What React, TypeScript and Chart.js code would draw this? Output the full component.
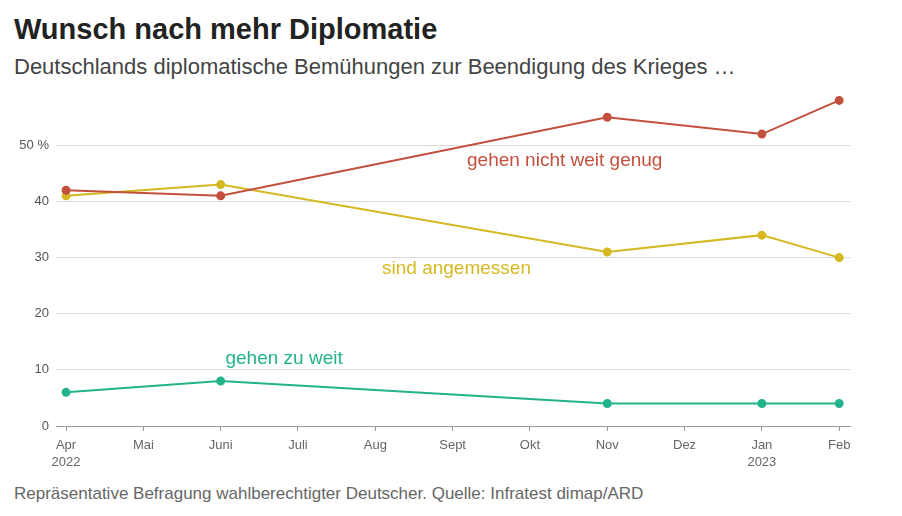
import React, { useEffect, useRef } from "react";
import { Chart, registerables } from "chart.js";

Chart.register(...registerables);

const monthLabels = ["Apr", "Mai", "Juni", "Juli", "Aug", "Sept", "Okt", "Nov", "Dez", "Jan", "Feb"];
const yearLabels = ["2022", "", "", "", "", "", "", "", "", "2023", ""];
const surveyMonths = [0, 2, 7, 9, 10]; // Apr 22, Juni, Nov, Jan 23, Feb
const nichtWeitGenug = [42, 41, 55, 52, 58];
const angemessen = [41, 43, 31, 34, 30];
const zuWeit = [6, 8, 4, 4, 4];
const yTicks = [0, 10, 20, 30, 40, 50];

const seriesNames = ["gehen nicht weit genug", "sind angemessen", "gehen zu weit"];
const seriesColors = ["#c2503d", "#d5b822", "#22b38b"];
const labelAnchorX = [6.45, 5.05, 2.82];
const labelAnchorY = [47.2, 28.0, 11.9];

const FONT = "'Liberation Sans', Arial, sans-serif";

const labelPlugin = {
  id: "seriesLabels",
  afterDatasetsDraw(chart: any) {
    const { ctx, scales } = chart;
    ctx.save();
    ctx.font = `19px ${FONT}`;
    ctx.textAlign = "center";
    ctx.textBaseline = "middle";
    seriesNames.forEach((name, i) => {
      ctx.fillStyle = seriesColors[i];
      ctx.fillText(name, scales.x.getPixelForValue(labelAnchorX[i]), scales.y.getPixelForValue(labelAnchorY[i]));
    });
    ctx.restore();
  },
};

export default function App() {
  const ref = useRef<HTMLCanvasElement>(null);
  useEffect(() => {
    const toPts = (vals: number[]) => vals.map((v, i) => ({ x: surveyMonths[i], y: v }));
    const allSeries = [nichtWeitGenug, angemessen, zuWeit];
    const chart = new Chart(ref.current!, {
      type: "line",
      data: {
        datasets: allSeries.map((vals, i) => ({
          label: seriesNames[i],
          data: toPts(vals),
          borderColor: seriesColors[i],
          backgroundColor: seriesColors[i],
          borderWidth: 2,
          pointRadius: 3.5,
          pointHoverRadius: 3.5,
          tension: 0,
        })),
      },
      options: {
        animation: false,
        responsive: false,
        events: [],
        layout: { padding: { top: 3, right: 52, left: 0, bottom: 0 } },
        plugins: { legend: { display: false }, tooltip: { enabled: false }, title: { display: false } },
        scales: {
          x: {
            type: "linear",
            min: -0.13,
            max: 10.14,
            afterBuildTicks: (scale: any) => {
              scale.ticks = monthLabels.map((_, i) => ({ value: i }));
            },
            afterFit: (scale: any) => {
              scale.height = 54;
            },
            ticks: {
              autoSkip: false,
              maxRotation: 0,
              padding: 6,
              color: "#666",
              font: { family: FONT, size: 13, lineHeight: 1.3 },
              callback: (v: any) => {
                const i = Math.round(Number(v));
                return yearLabels[i] ? [monthLabels[i], yearLabels[i]] : monthLabels[i];
              },
            },
            grid: { drawOnChartArea: false, drawTicks: true, tickLength: 5, color: "#999" },
            border: { display: true, color: "#999", width: 1 },
          },
          y: {
            min: 0,
            max: 59,
            afterBuildTicks: (scale: any) => {
              scale.ticks = yTicks.map((v) => ({ value: v }));
            },
            afterFit: (scale: any) => {
              scale.width = 56;
            },
            ticks: {
              padding: 7,
              color: "#555",
              font: { family: FONT, size: 13 },
              callback: (v: any) => (Number(v) === 50 ? "50 %" : String(v)),
            },
            grid: { drawTicks: false, color: "#d9d9d9", lineWidth: 1 },
            border: { display: false },
          },
        },
      },
      plugins: [labelPlugin],
    });
    return () => chart.destroy();
  }, []);

  return (
    <div style={{ position: "fixed", left: 0, top: 0, width: 902, height: 516, background: "#fff", fontFamily: FONT, overflow: "hidden" }}>
      <div style={{ position: "absolute", left: 14, top: 13, fontSize: 29, fontWeight: "bold", color: "#222", whiteSpace: "nowrap" }}>
        Wunsch nach mehr Diplomatie
      </div>
      <div style={{ position: "absolute", left: 14, top: 54, fontSize: 22, color: "#444", whiteSpace: "nowrap" }}>
        Deutschlands diplomatische Bemühungen zur Beendigung des Krieges …
      </div>
      <canvas ref={ref} width={902} height={400} style={{ position: "absolute", left: 0, top: 80, width: 902, height: 400 }} />
      <div style={{ position: "absolute", left: 14, top: 484, fontSize: 17, color: "#666", whiteSpace: "nowrap" }}>
        Repräsentative Befragung wahlberechtigter Deutscher. Quelle: Infratest dimap/ARD
      </div>
    </div>
  );
}
